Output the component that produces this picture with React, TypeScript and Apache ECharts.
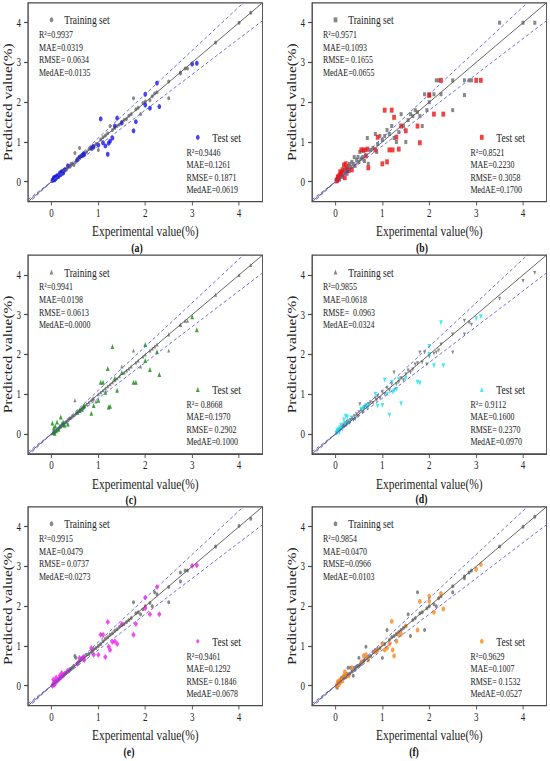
import React, { useEffect, useRef } from "react";
import * as echarts from "echarts";

// ---------------- data ----------------
const TICKS = [0, 1, 2, 3, 4];
const PANEL_LABELS = ["(a)", "(b)", "(c)", "(d)", "(e)", "(f)"];

const TRAIN_X = [
  0.02, 0.04, 0.05, 0.07, 0.08, 0.1, 0.12, 0.13, 0.15, 0.17,
  0.19, 0.2, 0.22, 0.24, 0.25, 0.27, 0.3, 0.32, 0.35, 0.38,
  0.4, 0.42, 0.45, 0.48, 0.5, 0.52, 0.55, 0.58, 0.6, 0.62,
  0.65, 0.68, 0.7, 0.75, 0.8, 0.85, 0.88, 0.9, 0.95, 1.0,
  1.05, 1.1, 1.15, 1.2, 1.25, 1.3, 1.35, 1.4, 1.45, 1.5,
  1.55, 1.6, 1.65, 1.7, 1.75, 1.8, 1.85, 1.9, 1.95, 2.0,
  2.1, 2.15, 2.25, 2.5, 2.75, 2.9, 3.5, 4.0, 4.25, 2.2,
  2.85, 2.75, 2.5,
];

const TRAIN_Y_A = [
  0.03, 0.05, 0.06, 0.08, 0.1, 0.11, 0.14, 0.12, 0.17, 0.16,
  0.21, 0.2, 0.25, 0.23, 0.28, 0.26, 0.32, 0.3, 0.36, 0.4,
  0.38, 0.45, 0.44, 0.42, 0.72, 0.5, 0.56, 0.6, 0.85, 0.63,
  0.66, 0.68, 0.72, 0.75, 0.82, 0.86, 0.9, 0.88, 0.95, 0.8,
  1.06, 1.12, 1.16, 1.22, 1.4, 1.3, 1.35, 1.4, 1.44, 1.5,
  1.55, 1.58, 1.66, 1.7, 2.1, 1.82, 1.86, 1.7, 1.98, 2.02,
  2.05, 2.15, 2.25, 2.1, 2.75, 2.85, 3.5, 4.0, 4.25, 2.22,
  2.85, 2.72, 2.52,
];
const TRAIN_Y_B = [
  0.05, 0.02, 0.12, 0.1, 0.05, 0.18, 0.15, 0.22, 0.12, 0.25,
  0.3, 0.22, 0.35, 0.28, 0.2, 0.4, 0.45, 0.38, 0.5, 0.45,
  0.62, 0.4, 0.55, 0.62, 0.5, 0.75, 0.58, 0.62, 0.78, 0.52,
  0.8, 1.1, 0.45, 0.8, 0.85, 1.2, 0.75, 0.95, 1.15, 1.05,
  1.15, 1.3, 1.2, 1.4, 1.1, 1.0, 1.25, 1.7, 1.4, 1.0,
  1.55, 1.7, 1.65, 1.8, 1.75, 1.65, 1.4, 2.2, 1.8, 2.0,
  2.2, 2.55, 2.2, 2.55, 2.55, 2.55, 4.0, 4.0, 4.0, 2.55,
  2.55, 2.18, 1.8,
];
const TRAIN_Y_C = [
  0.02, 0.04, 0.06, 0.07, 0.09, 0.1, 0.12, 0.14, 0.15, 0.17,
  0.19, 0.2, 0.22, 0.24, 0.25, 0.27, 0.3, 0.32, 0.35, 0.4,
  0.4, 0.42, 0.45, 0.48, 0.85, 0.52, 0.55, 0.58, 0.6, 0.62,
  0.65, 0.68, 0.7, 0.75, 0.8, 0.85, 0.88, 0.9, 0.82, 1.0,
  1.05, 1.1, 1.15, 1.2, 1.25, 1.3, 1.35, 1.4, 1.45, 1.7,
  1.55, 1.6, 1.65, 1.7, 2.1, 1.8, 1.85, 1.7, 1.95, 2.0,
  2.1, 2.15, 2.25, 2.1, 2.75, 2.85, 3.5, 4.0, 4.25, 2.2,
  2.85, 2.75, 2.5,
];
const TRAIN_Y_D = [
  0.03, 0.06, 0.04, 0.1, 0.08, 0.12, 0.16, 0.14, 0.18, 0.22,
  0.2, 0.25, 0.28, 0.22, 0.3, 0.32, 0.28, 0.35, 0.4, 0.35,
  0.45, 0.38, 0.5, 0.45, 0.55, 0.75, 0.6, 0.55, 0.62, 0.68,
  0.72, 0.65, 0.75, 0.8, 0.78, 0.9, 0.85, 0.95, 0.9, 1.05,
  1.0, 1.15, 1.1, 1.25, 1.55, 1.25, 1.3, 1.4, 1.35, 1.5,
  1.6, 1.55, 1.62, 1.75, 1.78, 2.05, 1.8, 2.05, 1.75, 1.95,
  2.02, 2.05, 2.25, 2.5, 2.85, 2.75, 3.4, 3.85, 4.05, 2.1,
  2.8, 2.5, 2.05,
];
const TRAIN_Y_E = [
  0.02, 0.05, 0.06, 0.08, 0.1, 0.12, 0.13, 0.14, 0.16, 0.18,
  0.2, 0.22, 0.24, 0.25, 0.27, 0.28, 0.32, 0.33, 0.35, 0.38,
  0.42, 0.43, 0.45, 0.5, 0.75, 0.7, 0.55, 0.6, 0.62, 0.65,
  0.68, 0.7, 0.72, 0.78, 0.8, 0.85, 0.88, 0.92, 0.95, 1.0,
  1.05, 1.12, 1.18, 1.22, 1.28, 1.32, 1.38, 1.42, 1.48, 1.52,
  1.55, 1.6, 1.65, 1.7, 2.1, 1.82, 1.85, 1.8, 1.92, 2.0,
  2.08, 2.0, 2.3, 2.48, 2.85, 2.9, 3.5, 4.02, 4.2, 2.35,
  2.9, 2.62, 2.1,
];
const TRAIN_Y_F = [
  0.0, -0.05, 0.05, 0.08, 0.12, 0.1, 0.15, 0.2, 0.18, 0.22,
  0.2, 0.25, 0.22, 0.3, 0.25, 0.45, 0.3, 0.45, 0.35, 0.25,
  0.45, 0.4, 0.48, 0.5, 0.7, 0.52, 0.55, 0.6, 0.62, 0.65,
  0.98, 0.7, 0.72, 0.75, 0.85, 0.9, 0.88, 0.92, 0.95, 0.7,
  1.05, 1.4, 1.15, 1.22, 1.25, 1.3, 1.35, 1.4, 1.45, 1.5,
  1.8, 1.25, 1.65, 1.7, 2.35, 1.82, 1.85, 1.4, 1.95, 2.0,
  2.05, 2.0, 2.25, 2.5, 2.75, 2.9, 3.5, 4.0, 4.25, 2.2,
  2.85, 2.7, 2.35,
];

const TEST_X = [
  0.02, 0.04, 0.05, 0.07, 0.08, 0.1, 0.12, 0.15, 0.18, 0.2,
  0.22, 0.25, 0.28, 0.35, 0.55, 0.6, 0.65, 0.68, 0.7, 0.85,
  0.9, 1.0, 1.05, 1.1, 1.15, 1.2, 1.22, 1.25, 1.3, 1.35,
  1.4, 1.5, 1.75, 1.8, 2.0, 2.0, 2.1, 2.25, 2.3, 3.0,
  3.1,
];
const TEST_Y_A = [
  0.03, 0.06, 0.1, 0.05, 0.12, 0.09, 0.15, 0.13, 0.22, 0.18,
  0.25, 0.22, 0.3, 0.4, 0.55, 0.62, 0.66, 0.7, 0.68, 0.84,
  0.88, 0.92, 1.58, 0.98, 0.9, 0.69, 0.97, 1.02, 1.1, 1.4,
  1.6, 1.48, 1.28, 1.51, 2.2, 1.93, 1.85, 2.48, 1.89, 2.96,
  2.98,
];
const TEST_Y_B = [
  0.02, 0.05, 0.12, 0.08, 0.15, 0.25, 0.2, 0.3, 0.42, 0.1,
  0.45, 0.32, 0.28, 0.3, 0.8, 0.8, 0.65, 0.82, 0.35, 0.8,
  1.12, 0.45, 1.8, 0.5, 0.8, 1.8, 0.8, 1.62, 1.12, 0.82,
  1.4, 1.28, 1.4, 0.98, 2.18, 2.18, 1.7, 2.55, 1.7, 2.55,
  2.55,
];
const TEST_Y_C = [
  0.28, 0.05, 0.15, 0.02, 0.2, 0.08, 0.3, 0.12, 0.2, 0.43,
  0.25, 0.3, 0.22, 0.25, 0.55, 0.6, 0.62, 0.7, 0.72, 0.52,
  0.72, 0.85, 1.3, 1.3, 1.05, 1.65, 0.68, 0.7, 2.2, 1.4,
  1.1, 1.55, 1.3, 1.3, 2.25, 1.85, 1.62, 2.07, 1.5, 2.95,
  2.62,
];
const TEST_Y_D = [
  0.02, 0.08, 0.05, 0.12, 0.03, 0.15, 0.22, 0.12, 0.35, 0.25,
  0.45, 0.42, 0.3, 0.4, 0.62, 0.65, 0.7, 0.68, 0.72, 1.0,
  0.7, 0.72, 1.35, 1.0, 0.47, 1.3, 1.05, 1.08, 1.12, 1.38,
  0.76, 1.4, 1.3, 1.28, 2.2, 2.0, 1.72, 2.8, 1.72, 2.9,
  2.95,
];
const TEST_Y_E = [
  0.0, 0.15, 0.02, 0.1, 0.05, 0.2, 0.12, 0.15, 0.25, 0.2,
  0.32, 0.25, 0.3, 0.38, 0.55, 0.7, 0.68, 0.72, 0.65, 0.95,
  0.78, 0.78, 1.28, 1.28, 0.72, 1.6, 0.98, 0.9, 1.1, 1.12,
  1.05, 1.55, 1.28, 1.55, 2.22, 1.95, 1.8, 2.48, 1.8, 3.02,
  3.03,
];
const TEST_Y_F = [
  -0.02, 0.05, 0.1, 0.02, 0.12, 0.08, 0.18, 0.12, 0.25, 0.35,
  0.22, 0.28, 0.25, 0.45, 0.6, 0.75, 0.78, 0.7, 0.65, 0.85,
  0.9, 1.05, 0.9, 0.95, 1.05, 1.62, 0.9, 0.75, 1.12, 1.28,
  1.3, 1.5, 1.4, 2.12, 2.25, 2.12, 1.85, 2.32, 1.93, 2.93,
  3.05,
];

const TRAIN_STATS_A = ["R²=0.9937", "MAE=0.0319", "RMSE= 0.0634", "MedAE=0.0135"];
const TEST_STATS_A = ["R²=0.9446", "MAE=0.1261", "RMSE= 0.1871", "MedAE=0.0619"];
const TRAIN_STATS_B = ["R²=0.9571", "MAE=0.1093", "RMSE= 0.1655", "MedAE=0.0655"];
const TEST_STATS_B = ["R²=0.8521", "MAE=0.2230", "RMSE= 0.3058", "MedAE=0.1700"];
const TRAIN_STATS_C = ["R²=0.9941", "MAE=0.0198", "RMSE= 0.0613", "MedAE=0.0000"];
const TEST_STATS_C = ["R²= 0.8668", "MAE=0.1970", "RMSE= 0.2902", "MedAE=0.1000"];
const TRAIN_STATS_D = ["R²=0.9855", "MAE=0.0618", "RMSE=  0.0963", "MedAE=0.0324"];
const TEST_STATS_D = ["R²= 0.9112", "MAE=0.1600", "RMSE= 0.2370", "MedAE=0.0970"];
const TRAIN_STATS_E = ["R²=0.9915", "MAE=0.0479", "RMSE= 0.0737", "MedAE=0.0273"];
const TEST_STATS_E = ["R²=0.9461", "MAE=0.1292", "RMSE= 0.1846", "MedAE=0.0678"];
const TRAIN_STATS_F = ["R²=0.9854", "MAE=0.0470", "RMSE=0.0966", "MedAE=0.0103"];
const TEST_STATS_F = ["R²=0.9629", "MAE=0.1007", "RMSE= 0.1532", "MedAE=0.0527"];

const DIAG_LINE = [[-0.5, -0.5], [4.5, 4.5]];
const UPPER_LINE = [[-0.5, -0.55], [4.5, 4.95]];
const LOWER_LINE = [[-0.5, -0.45], [4.5, 4.05]];

// ---------------- layout / style ----------------
const S = 0.75; // the reference picture is compressed horizontally
const FONT = '"Liberation Serif", "Times New Roman", serif';
const COL_LEFT = [28, 312];
const ROW_TOP = [2.8, 255.1, 506.8];
const PANEL_W = 234.5;
const PANEL_H = 198.8;
const LABEL_POS = [
  [137, 247], [422, 247], [131, 499], [421.5, 498], [129, 751], [414, 751],
];
const FRAME = "#4a4a4a";
const TRAIN_COLOR = "#6a6a6a";
const ICON = 5;

const PANELS = [
  { trainY: TRAIN_Y_A, testY: TEST_Y_A, trainSym: "circle", testSym: "circle", rot: 0, color: "#1414ee", trainStats: TRAIN_STATS_A, testStats: TEST_STATS_A },
  { trainY: TRAIN_Y_B, testY: TEST_Y_B, trainSym: "rect", testSym: "rect", rot: 0, color: "#ee1414", trainStats: TRAIN_STATS_B, testStats: TEST_STATS_B },
  { trainY: TRAIN_Y_C, testY: TEST_Y_C, trainSym: "triangle", testSym: "triangle", rot: 0, color: "#128a12", trainStats: TRAIN_STATS_C, testStats: TEST_STATS_C },
  { trainY: TRAIN_Y_D, testY: TEST_Y_D, trainSym: "triangle", testSym: "triangle", rot: 180, color: "#22e0ee", trainStats: TRAIN_STATS_D, testStats: TEST_STATS_D },
  { trainY: TRAIN_Y_E, testY: TEST_Y_E, trainSym: "circle", testSym: "diamond", rot: 0, color: "#ee22ee", trainStats: TRAIN_STATS_E, testStats: TEST_STATS_E },
  { trainY: TRAIN_Y_F, testY: TEST_Y_F, trainSym: "circle", testSym: "circle", rot: 0, color: "#f58a1f", trainStats: TRAIN_STATS_F, testStats: TEST_STATS_F },
];

function buildOption() {
  const grid: any[] = [];
  const xAxis: any[] = [];
  const yAxis: any[] = [];
  const series: any[] = [];
  const legend: any[] = [];
  const elements: any[] = [];

  PANELS.forEach((p, i) => {
    const c = i % 2;
    const r = Math.floor(i / 2);
    const gl = COL_LEFT[c] / S;
    const gt = ROW_TOP[r];
    grid.push({
      left: gl,
      top: gt,
      width: PANEL_W / S,
      height: PANEL_H,
      show: true,
      borderColor: FRAME,
      borderWidth: 1.2,
      backgroundColor: "transparent",
      containLabel: false,
      outerBoundsMode: "none",
    });
    xAxis.push({
      type: "value",
      gridIndex: i,
      min: -0.5,
      max: 4.5,
      axisLine: { show: true, onZero: false, lineStyle: { color: FRAME, width: 1.2 } },
      axisTick: { show: true, customValues: TICKS, length: 4, lineStyle: { color: FRAME, width: 1.2 } },
      axisLabel: { customValues: TICKS, margin: 5, fontSize: 12, fontFamily: FONT, color: "#222" },
      splitLine: { show: false },
      name: "Experimental value(%)",
      nameLocation: "middle",
      nameGap: 22,
      nameTextStyle: { fontSize: 15.3, fontFamily: FONT, color: "#222" },
    });
    yAxis.push({
      type: "value",
      gridIndex: i,
      min: -0.5,
      max: 4.5,
      axisLine: { show: true, onZero: false, lineStyle: { color: FRAME, width: 1.2 } },
      axisTick: { show: true, customValues: TICKS, length: 5.3, lineStyle: { color: FRAME, width: 1.2 } },
      axisLabel: { customValues: TICKS, margin: 9.5, fontSize: 12, fontFamily: FONT, color: "#222" },
      splitLine: { show: false },
      name: "Predicted value(%)",
      nameLocation: "middle",
      nameGap: 18.5,
      nameTextStyle: { fontSize: 15.3, fontFamily: FONT, color: "#222" },
    });

    const trainName = "Training set " + PANEL_LABELS[i];
    const testName = "Test set " + PANEL_LABELS[i];
    series.push({
      type: "scatter",
      name: trainName,
      xAxisIndex: i,
      yAxisIndex: i,
      symbol: p.trainSym,
      symbolRotate: p.rot,
      symbolSize: 4,
      itemStyle: { color: TRAIN_COLOR },
      data: TRAIN_X.map((x, j) => [x, p.trainY[j]]),
      z: 2,
    });
    series.push({
      type: "scatter",
      name: testName,
      xAxisIndex: i,
      yAxisIndex: i,
      symbol: p.testSym,
      symbolRotate: p.rot,
      symbolSize: p.testSym === "diamond" ? 6 : 5,
      itemStyle: { color: p.color },
      data: TEST_X.map((x, j) => [x, p.testY[j]]),
      z: 3,
    });
    series.push({
      type: "line",
      xAxisIndex: i,
      yAxisIndex: i,
      data: DIAG_LINE,
      symbol: "none",
      clip: true,
      lineStyle: { color: "#505050", width: 1 },
      z: 4,
      silent: true,
    });
    series.push({
      type: "line",
      xAxisIndex: i,
      yAxisIndex: i,
      data: UPPER_LINE,
      symbol: "none",
      clip: true,
      lineStyle: { color: "#5a5ae0", width: 1, type: [4, 3] },
      z: 4,
      silent: true,
    });
    series.push({
      type: "line",
      xAxisIndex: i,
      yAxisIndex: i,
      data: LOWER_LINE,
      symbol: "none",
      clip: true,
      lineStyle: { color: "#5a5ae0", width: 1, type: [4, 3] },
      z: 4,
      silent: true,
    });

    // legend: marker centre / text start measured in the picture (in px from the plot's left edge)
    const trainMarker = 23.5 / S, trainText = 36.2 / S;
    const testMarker = 169.8 / S, testText = 184.3 / S;
    legend.push({
      data: [trainName],
      left: gl + trainMarker - ICON / 2,
      top: gt + 17.5 - 7,
      itemWidth: ICON,
      itemHeight: ICON,
      padding: 0,
      selectedMode: false,
      formatter: () => "Training set",
      textStyle: {
        fontSize: 12.7, fontFamily: FONT, color: "#222",
        padding: [0, 0, 0, trainText - trainMarker - ICON / 2 - 5],
      },
    });
    legend.push({
      data: [testName],
      left: gl + testMarker - ICON / 2,
      top: gt + 135 - 7,
      itemWidth: ICON,
      itemHeight: ICON,
      padding: 0,
      selectedMode: false,
      formatter: () => "Test set",
      textStyle: {
        fontSize: 12.7, fontFamily: FONT, color: "#222",
        padding: [0, 0, 0, testText - testMarker - ICON / 2 - 5],
      },
    });

    const trainOff = [32, 44.7, 57.3, 70];
    const testOff = [149.5, 162, 174.5, 187];
    p.trainStats.forEach((t, k) => {
      elements.push({
        type: "text",
        x: gl + 11 / S,
        y: gt + trainOff[k],
        silent: true,
        style: { text: t, fontSize: 10.6, fontFamily: FONT, fill: "#1a1a1a", align: "left", verticalAlign: "middle" },
      });
    });
    p.testStats.forEach((t, k) => {
      elements.push({
        type: "text",
        x: gl + 158.5 / S,
        y: gt + testOff[k],
        silent: true,
        style: { text: t, fontSize: 10.6, fontFamily: FONT, fill: "#1a1a1a", align: "left", verticalAlign: "middle" },
      });
    });
    elements.push({
      type: "text",
      x: LABEL_POS[i][0] / S,
      y: LABEL_POS[i][1],
      silent: true,
      style: { text: PANEL_LABELS[i], fontSize: 13, fontWeight: "bold", fontFamily: FONT, fill: "#111", align: "center", verticalAlign: "middle" },
    });
  });

  return {
    animation: false,
    backgroundColor: "#ffffff",
    grid,
    xAxis,
    yAxis,
    legend,
    series,
    graphic: { elements },
  };
}

export default function App() {
  const ref = useRef<HTMLDivElement>(null);
  useEffect(() => {
    document.body.style.margin = "0";
    if (!ref.current) return;
    const chart = echarts.init(ref.current, null, { renderer: "svg" });
    chart.setOption(buildOption() as any);
    return () => chart.dispose();
  }, []);
  return (
    <div style={{ width: 550, height: 761, overflow: "hidden", position: "relative", background: "#fff" }}>
      <div
        ref={ref}
        style={{
          width: 550 / S,
          height: 761,
          transform: `scaleX(${S})`,
          transformOrigin: "0 0",
        }}
      />
    </div>
  );
}
